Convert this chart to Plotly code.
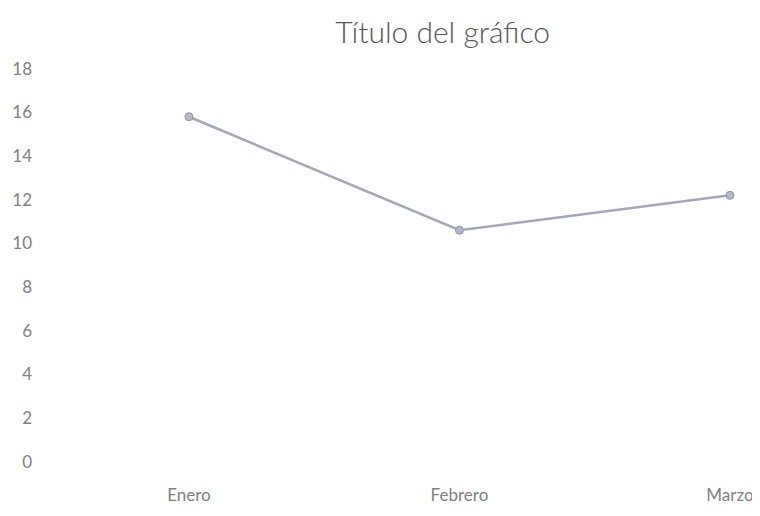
import plotly.graph_objects as go

meses = ["Enero", "Febrero", "Marzo"]
valores = [15.8, 10.6, 12.2]
y_ticks = [0, 2, 4, 6, 8, 10, 12, 14, 16, 18]

fig = go.Figure()
fig.add_trace(go.Scatter(
    x=meses, y=valores, mode="lines+markers",
    line=dict(color="#a3a7ba", width=2.5),
    marker=dict(size=8, color="#b4b7c6", line=dict(color="#9094a8", width=1)),
))

fig.update_layout(
    width=752, height=508,
    margin=dict(l=37, r=10, t=52, b=50),
    paper_bgcolor="white", plot_bgcolor="white",
    showlegend=False,
    font=dict(family="Lato, Open Sans, sans-serif", color="#808080", size=17),
    title=dict(text="Título del gráfico", x=0.578, xanchor="center",
               y=0.951, yanchor="middle",
               font=dict(size=30, color="#555555", family="Lato, Open Sans, sans-serif",
                         weight=300)),
    xaxis=dict(type="category", range=[-0.532, 2.074], showgrid=False, automargin=False,
               zeroline=False, showline=False, ticks="", ticklabelstandoff=17),
    yaxis=dict(range=[-0.2, 18.4], tickvals=y_ticks, showgrid=False, automargin=False,
               zeroline=False, showline=False, ticks="", ticklabelstandoff=12),
)

fig.write_html("out.html")
